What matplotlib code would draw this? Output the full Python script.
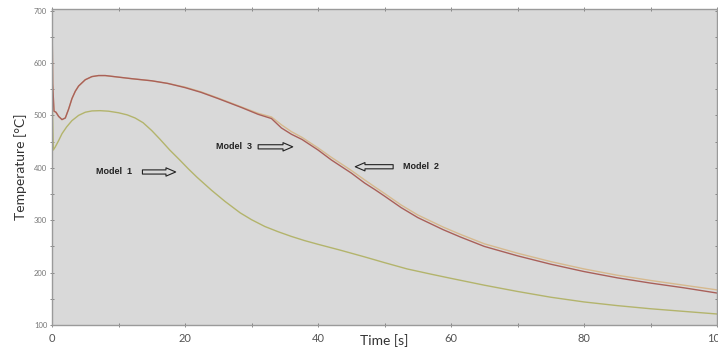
import numpy as np
import matplotlib
matplotlib.use("Agg")
import matplotlib.pyplot as plt

# Model 1 (lower curve)
t1 = [0, 0.05, 0.2, 0.5, 1.0, 1.5, 2.2, 3.0, 4.0, 5.0, 6.0, 7.2, 8.5, 10.0, 11.3,
      12.5, 13.7, 15.0, 16.2, 17.7, 19.2, 20.5, 21.8, 24.0, 26.0, 28.3, 30.0,
      32.0, 34.0, 36.0, 38.0, 40.0, 43.3, 47.0, 50.0, 53.4, 57.0, 60.0, 65.0,
      70.0, 75.0, 80.0, 85.0, 90.0, 95.0, 100.0]
T1 = [700, 520, 434, 440, 452, 465, 478, 490, 500, 506, 508.5, 509, 508, 505, 501,
      495, 486, 471, 455, 434, 415, 398, 382, 357, 336, 314, 301,
      288, 278, 269, 261, 254, 243, 230, 219, 207, 197, 189, 176,
      164, 153, 144, 137, 131, 126, 121]

# Model 2 and Model 3 (upper curves)
t23 = [0, 0.1, 0.3, 0.6, 1.0, 1.5, 2.0, 2.5, 3.0, 3.5, 4.0, 5.0, 6.0, 7.0, 8.0, 10.0,
       12.0, 15.0, 17.4, 20.0, 22.4, 25.0, 28.5, 31.0, 33.0, 34.5, 36.0, 37.6,
       40.0, 42.0, 45.0, 47.0, 48.6, 50.0, 52.5, 55.0, 58.8, 61.4, 65.0, 70.0,
       75.0, 80.0, 85.0, 90.0, 95.0, 100.0]
T2 = [700, 560, 508, 506, 498, 492, 495, 512, 532, 546, 556, 568, 574, 576, 576, 573,
      570, 566, 561, 554, 545, 533, 516, 504, 497, 482, 469, 458,
      438, 420, 395, 377, 363, 351, 329, 310, 287, 273, 255, 237,
      221, 207, 195, 185, 176, 167]
T3 = [700, 560, 508, 506, 498, 492, 495, 512, 532, 546, 556, 568, 574, 576, 576, 573,
      570, 566, 561, 553, 544, 532, 515, 502, 494, 476, 464, 454,
      434, 415, 390, 371, 358, 346, 324, 305, 282, 268, 250, 232,
      216, 202, 190, 180, 171, 161]

fig = plt.figure(figsize=(7.18, 3.51), dpi=100)
ax = fig.add_axes([52/718, 26/351, 665/718, 316/351])
ax.set_facecolor('#d9d9d9')

ax.plot(t1, T1, color='#b3b46c', lw=1.0)
ax.plot(t23, T2, color='#d6b98e', lw=1.0)
ax.plot(t23, T3, color='#a9605a', lw=1.0)

ax.set_xlim(0, 100)
ax.set_ylim(100, 703)
ax.set_xticks([0, 20, 40, 60, 80, 100])
ax.set_xticks(np.arange(10, 100, 20), minor=True)
ax.set_yticks([100, 200, 300, 400, 500, 600, 700])
ax.set_yticks([150, 250, 350, 450, 550, 650], minor=True)
ax.tick_params(which='both', direction='inout', length=3, width=0.6, color='#777777',
               top=True, right=True)
ax.tick_params(axis='x', labelsize=8, labelcolor='#555555', pad=4)
ax.tick_params(axis='y', labelsize=5.5, labelcolor='#777777', pad=2)
for lbl in ax.get_xticklabels() + ax.get_yticklabels():
    lbl.set_family('Lato')
for s in ax.spines.values():
    s.set_color('#9a9a9a')
    s.set_linewidth(1.0)

ax.set_xlabel('Time [s]', fontsize=10, color='#333333', family='Lato')
ax.xaxis.set_label_coords(0.5, -0.03)
ax.set_ylabel('Temperature [°C]', fontsize=10, color='#333333', family='Lato', labelpad=5)

# hollow arrows with labels
arrow_kw = dict(arrowstyle='simple,head_length=0.7,head_width=0.6,tail_width=0.3',
                fc='#d9d9d9', ec='#222222', lw=0.8, shrinkA=0, shrinkB=0)
txt_kw = dict(fontsize=6.5, fontweight='bold', va='center', color='#222222',
              family='Liberation Sans', zorder=5)
ax.text(6.6, 392, 'Model  1', **txt_kw)
ax.annotate('', xy=(18.6, 392), xytext=(13.6, 392), arrowprops=arrow_kw)
ax.text(24.7, 440, 'Model  3', **txt_kw)
ax.annotate('', xy=(36.2, 440), xytext=(31.0, 440), arrowprops=arrow_kw)
ax.annotate('', xy=(45.6, 402), xytext=(51.3, 402), arrowprops=arrow_kw)
ax.text(52.8, 402, 'Model  2', **txt_kw)

fig.savefig('out.png', dpi=100)
